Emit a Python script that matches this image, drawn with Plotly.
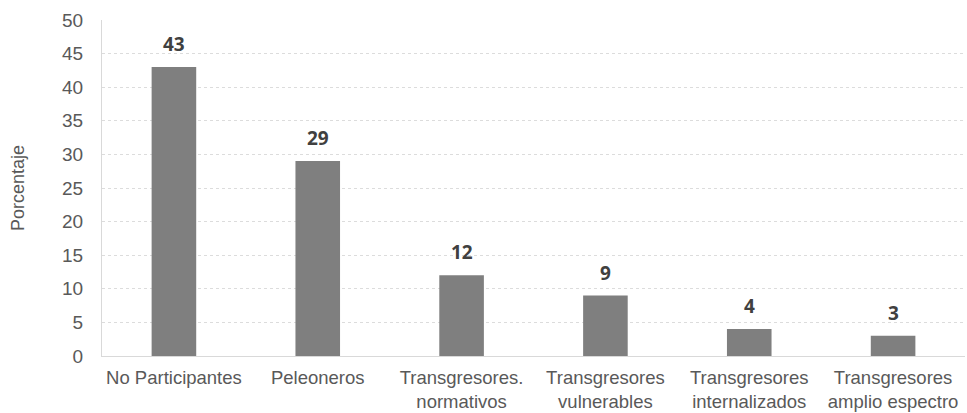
import plotly.graph_objects as go

categories = ["No Participantes", "Peleoneros", "Transgresores.<br>normativos",
              "Transgresores<br>vulnerables", "Transgresores<br>internalizados",
              "Transgresores<br>amplio espectro"]
values = [43, 29, 12, 9, 4, 3]
y_ticks = [0, 5, 10, 15, 20, 25, 30, 35, 40, 45, 50]

fig = go.Figure()
fig.add_trace(go.Bar(
    x=categories, y=values,
    marker=dict(color="#7f7f7f", line=dict(width=0)),
    width=0.31,
))

for c, v in zip(categories, values):
    fig.add_annotation(
        x=c, y=v, text=str(v), showarrow=False,
        yanchor="bottom", yshift=8,
        font=dict(family="Open Sans", size=19, color="#404040", weight="bold"),
    )

fig.update_layout(
    width=967, height=413,
    margin=dict(l=102, r=2, t=20, b=57),
    plot_bgcolor="white", paper_bgcolor="white",
    showlegend=False,
    font=dict(family="Liberation Sans", size=18, color="#595959"),
    xaxis=dict(
        showline=True, linecolor="#d9d9d9", linewidth=1,
        showgrid=False, ticks="",
        tickfont=dict(family="Liberation Sans", size=18.5, color="#595959"),
        ticklabelstandoff=5,
    ),
    yaxis=dict(
        range=[0, 50], tickvals=y_ticks, showgrid=True,
        gridcolor="#dcdcdc", griddash="dot", gridwidth=1,
        showline=True, linecolor="#d9d9d9", linewidth=1,
        zeroline=False, ticks="", ticklabelstandoff=14,
        tickfont=dict(family="Liberation Sans", size=19, color="#595959"),
        title=dict(text="Porcentaje", font=dict(family="Liberation Sans", size=18, color="#595959"), standoff=32),
    ),
)

fig.write_html("out.html")
